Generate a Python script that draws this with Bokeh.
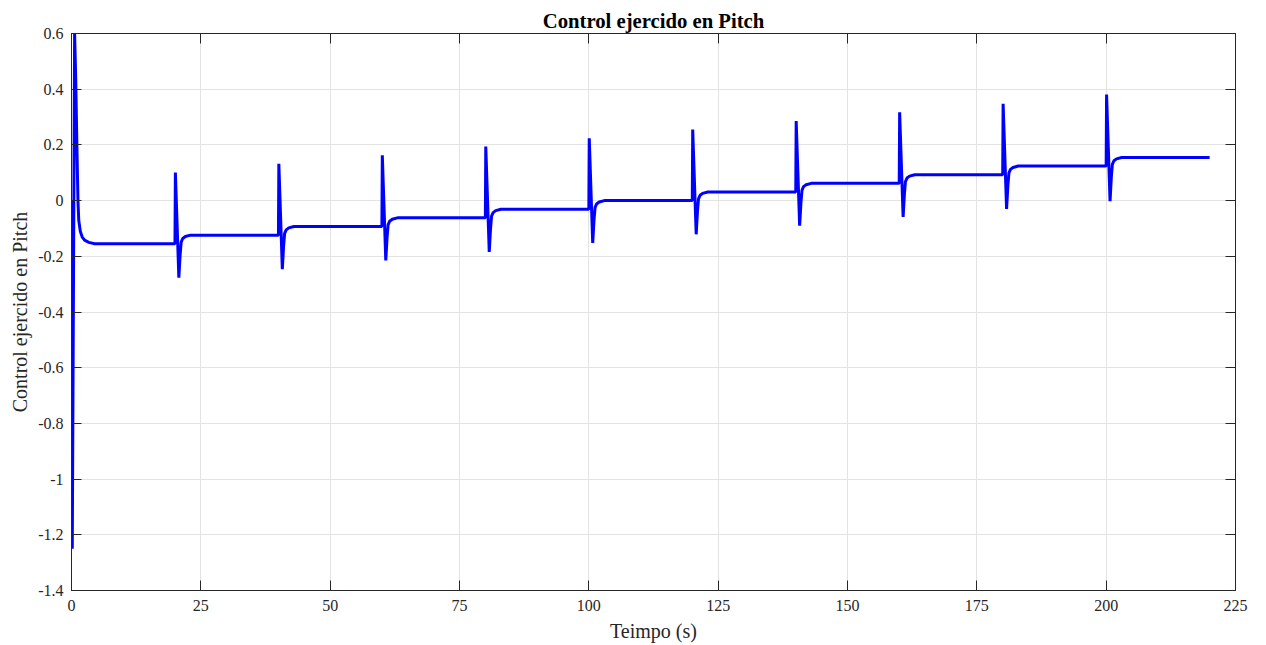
from bokeh.plotting import figure
from bokeh.models import LinearAxis, FixedTicker
from bokeh.embed import file_html
from bokeh.resources import INLINE

# ---- data ----
time_s = [
    0.0, 0.15, 0.6, 0.8, 1.06, 1.25, 1.4, 1.7, 2.07, 2.6, 3.35, 4.5,
    20.0, 20.08, 20.75, 21.0, 21.2, 21.5, 22.0, 23.0,
    40.0, 40.08, 40.75, 41.0, 41.2, 41.5, 42.0, 43.0,
    60.0, 60.08, 60.75, 61.0, 61.2, 61.5, 62.0, 63.0,
    80.0, 80.08, 80.75, 81.0, 81.2, 81.5, 82.0, 83.0,
    100.0, 100.08, 100.75, 101.0, 101.2, 101.5, 102.0, 103.0,
    120.0, 120.08, 120.75, 121.0, 121.2, 121.5, 122.0, 123.0,
    140.0, 140.08, 140.75, 141.0, 141.2, 141.5, 142.0, 143.0,
    160.0, 160.08, 160.75, 161.0, 161.2, 161.5, 162.0, 163.0,
    180.0, 180.08, 180.75, 181.0, 181.2, 181.5, 182.0, 183.0,
    200.0, 200.08, 200.75, 201.0, 201.2, 201.5, 202.0, 203.0,
    220.0,
]
control_pitch = [
    0.0, -1.25, 0.6, 0.45, 0.18, 0.0, -0.07, -0.11, -0.131, -0.143, -0.150, -0.155,
    -0.155, 0.101, -0.277, -0.194, -0.149, -0.136, -0.129, -0.124,
    -0.124, 0.132, -0.246, -0.163, -0.118, -0.105, -0.098, -0.093,
    -0.093, 0.163, -0.215, -0.132, -0.087, -0.074, -0.067, -0.062,
    -0.062, 0.194, -0.184, -0.101, -0.056, -0.043, -0.036, -0.031,
    -0.031, 0.224, -0.152, -0.070, -0.025, -0.012, -0.005, 0.0,
    0.0, 0.255, -0.121, -0.039, 0.006, 0.019, 0.026, 0.031,
    0.031, 0.286, -0.090, -0.008, 0.037, 0.050, 0.057, 0.062,
    0.062, 0.317, -0.059, 0.023, 0.068, 0.081, 0.088, 0.093,
    0.093, 0.348, -0.030, 0.054, 0.099, 0.112, 0.119, 0.124,
    0.124, 0.381, -0.002, 0.085, 0.130, 0.143, 0.150, 0.155,
    0.155,
]
x_ticks = [0, 25, 50, 75, 100, 125, 150, 175, 200, 225]
y_ticks = [-1.4, -1.2, -1.0, -0.8, -0.6, -0.4, -0.2, 0.0, 0.2, 0.4, 0.6]
y_tick_labels = ["-1.4", "-1.2", "-1", "-0.8", "-0.6", "-0.4", "-0.2", "0", "0.2", "0.4", "0.6"]

FONT = "Liberation Serif"
AX = "#262626"

p = figure(
    frame_width=1164, frame_height=557,
    x_range=(0, 225), y_range=(-1.4, 0.6),
    output_backend="svg", toolbar_location=None,
    min_border_left=71, min_border_right=25, min_border_top=33, min_border_bottom=53,
    background_fill_color="white", border_fill_color="white",
)
p.outline_line_color = AX
p.outline_line_width = 1

p.title.text = "Control ejercido en Pitch"
p.title.align = "center"
p.title.text_font = FONT
p.title.text_font_size = "20.7px"
p.title.text_font_style = "bold"
p.title.text_color = "black"
p.title.standoff = 4

p.line(time_s, control_pitch, line_color="#0000ff", line_width=3)

def style_axis(ax, ticks, show_labels):
    ax.ticker = FixedTicker(ticks=ticks)
    ax.axis_line_color = AX
    ax.major_tick_line_color = AX
    ax.major_tick_in = 10
    ax.major_tick_out = 0
    ax.minor_tick_line_color = None
    ax.major_label_text_font = FONT
    if show_labels:
        ax.major_label_text_color = AX
        ax.major_label_text_font_size = "16px"
        ax.major_label_standoff = 9
    else:
        ax.major_label_text_color = None
        ax.major_label_text_font_size = "1px"
        ax.major_label_standoff = 0

style_axis(p.xaxis[0], x_ticks, True)
style_axis(p.yaxis[0], y_ticks, True)
p.yaxis[0].major_label_standoff = 8
p.yaxis[0].major_label_overrides = {t: s for t, s in zip(y_ticks, y_tick_labels)}

p.xaxis.axis_label = "Teimpo (s)"
p.yaxis.axis_label = "Control ejercido en Pitch"
for ax in (p.xaxis[0], p.yaxis[0]):
    ax.axis_label_text_font = FONT
    ax.axis_label_text_font_style = "normal"
    ax.axis_label_text_color = AX
    ax.axis_label_text_font_size = "20px"
p.xaxis[0].axis_label_standoff = 6
p.yaxis[0].axis_label_standoff = 4

top_ax = LinearAxis()
style_axis(top_ax, x_ticks, False)
p.add_layout(top_ax, "above")
right_ax = LinearAxis()
style_axis(right_ax, y_ticks, False)
p.add_layout(right_ax, "right")

p.xgrid.ticker = FixedTicker(ticks=x_ticks)
p.ygrid.ticker = FixedTicker(ticks=y_ticks)
p.grid.grid_line_color = "#e3e3e3"
p.grid.grid_line_width = 1

open("out.html", "w").write(file_html(p, INLINE))
